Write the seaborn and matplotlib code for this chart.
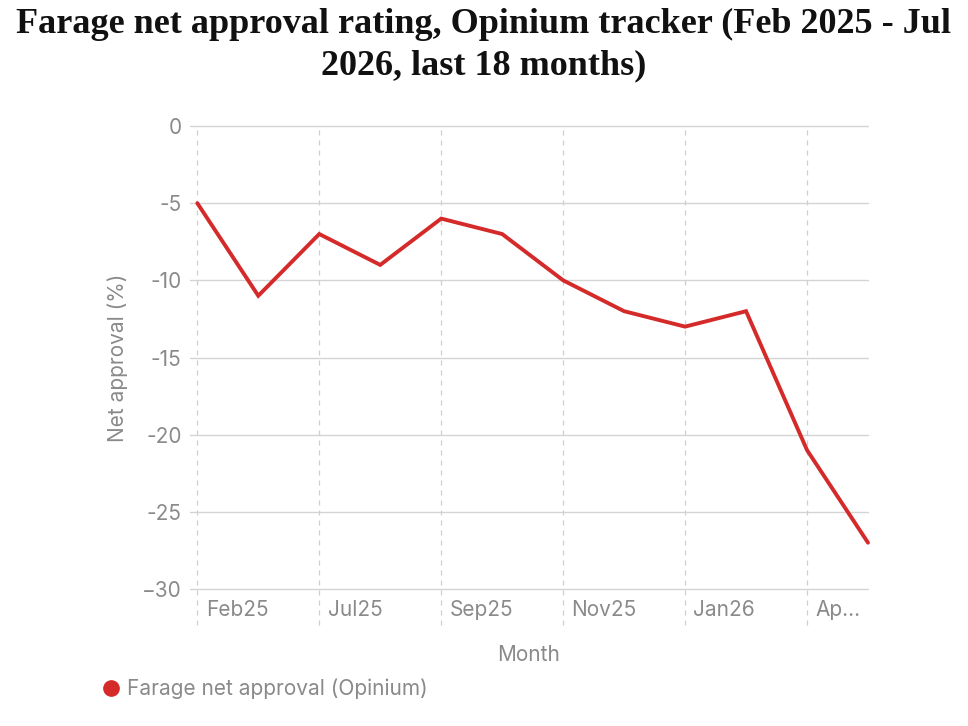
import matplotlib
matplotlib.use("Agg")
import matplotlib.pyplot as plt
from matplotlib.lines import Line2D
import seaborn as sns
import pandas as pd

months = ["Feb25", "Jun25", "Jul25", "Aug25", "Sep25", "Oct25",
          "Nov25", "Dec25", "Jan26", "Mar26", "Ap...", "May26"]
net_approval = [-5, -11, -7, -9, -6, -7, -10, -12, -13, -12, -21, -27]
y_ticks = [0, -5, -10, -15, -20, -25, -30]
series_name = "Farage net approval (Opinium)"

df = pd.DataFrame({"pos": list(range(len(months))), "month": months, "value": net_approval})

sns.set_theme(style="white")
plt.rcParams['font.family'] = ['Inter', 'DejaVu Sans']

fig = plt.figure(figsize=(9.68, 7.26), dpi=100)
ax = fig.add_axes([190/968, 1-589/726, (868-190)/968, (589-126)/726])

GRAY = "#8a8a8a"
RED = "#d42a2a"
FS = 15

sns.lineplot(data=df, x="pos", y="value", ax=ax, color=RED, linewidth=2.8,
             sort=False, legend=False)
for ln in ax.lines:
    ln.set_clip_on(False)
    ln.set_solid_joinstyle("miter")

ax.set_ylim(-30, 0)
ax.set_xlim(-0.12, len(months) - 1)
ax.set_yticks(y_ticks)
ax.set_yticklabels([str(v).replace("-", "\u2212") if v == -30 else str(v) for v in y_ticks])
for v in y_ticks:
    ax.axhline(v, color="#d4d4d4", linewidth=1.0, zorder=0, clip_on=False)

tick_pos = df["pos"].tolist()[::2]
tick_lab = df["month"].tolist()[::2]
for p in tick_pos:
    ax.axvline(p, ymin=-0.078, ymax=1, color="#cfcfcf", linewidth=0.9,
               linestyle=(0, (4, 4)), clip_on=False, zorder=0)
ax.set_xticks(tick_pos)
ax.set_xticklabels([])
for p, lab in zip(tick_pos, tick_lab):
    ax.annotate(lab, xy=(p, 0), xycoords=("data", "axes fraction"),
                xytext=(6, -15), textcoords="offset points",
                ha="left", va="center", fontsize=FS, color=GRAY)

ax.tick_params(axis="x", length=0)
ax.tick_params(axis="y", length=0, pad=6, labelsize=FS, labelcolor=GRAY)
for s in ax.spines.values():
    s.set_visible(False)

ax.set_xlabel("Month", fontsize=FS, color=GRAY, labelpad=37)
ax.set_ylabel("Net approval (%)", fontsize=FS, color=GRAY, labelpad=10)

handle = Line2D([], [], marker="o", color=RED, linestyle="none", markersize=11)
fig.legend([handle], [series_name], loc="center left",
           bbox_to_anchor=(80/968, 1-689/726), frameon=False,
           fontsize=FS, labelcolor=GRAY, handletextpad=0.15, handlelength=1.2)

fig.text(0.5, 1-24/726, "Farage net approval rating, Opinium tracker (Feb 2025 - Jul",
         ha="center", va="center", fontsize=26, fontweight="bold",
         family=["Liberation Serif", "DejaVu Serif"], color="#111111")
fig.text(0.5, 1-66/726, "2026, last 18 months)",
         ha="center", va="center", fontsize=26, fontweight="bold",
         family=["Liberation Serif", "DejaVu Serif"], color="#111111")

fig.savefig("out.png", dpi=100, facecolor="white")
